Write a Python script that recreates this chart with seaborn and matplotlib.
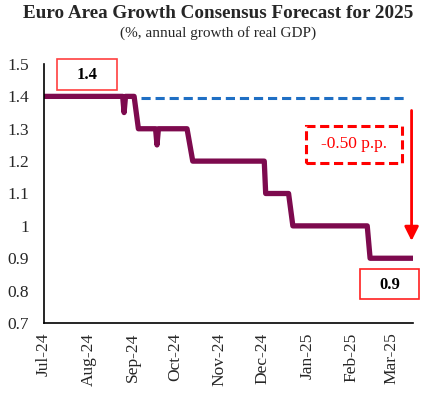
import pandas as pd
import matplotlib.pyplot as plt
import matplotlib.dates as mdates
from matplotlib.patches import Rectangle
import seaborn as sns

# Consensus forecast path (date, % growth)
dates = ["2024-07-01", "2024-08-25", "2024-08-26", "2024-08-27", "2024-09-02",
         "2024-09-05", "2024-09-17", "2024-09-18", "2024-09-19", "2024-10-09",
         "2024-10-13", "2024-12-02", "2024-12-03", "2024-12-19", "2024-12-22",
         "2025-02-12", "2025-02-14", "2025-03-16"]
forecast = [1.4, 1.4, 1.35, 1.4, 1.4,
            1.3, 1.3, 1.25, 1.3, 1.3,
            1.2, 1.2, 1.1, 1.1, 1.0,
            1.0, 0.9, 0.9]

# Reference line (initial forecast, held constant)
ref_dates = ["2024-09-07", "2025-03-12"]
ref_values = [1.395, 1.395]

start_value = "1.4"
end_value = "0.9"
change_label = "-0.50 p.p."

data = pd.DataFrame({"date": pd.to_datetime(dates), "forecast": forecast})
ref = pd.DataFrame({"date": pd.to_datetime(ref_dates), "value": ref_values})

sns.set_theme(style="white")
plt.rcParams['font.family'] = ['Liberation Serif', 'DejaVu Serif']

fig = plt.figure(figsize=(4.36, 3.95), dpi=100)
ax = fig.add_axes([44 / 436, 1 - 323 / 395, 369 / 436, 259 / 395])

sns.lineplot(data=data, x="date", y="forecast", ax=ax, color="#7d0a4e", linewidth=3.8)
sns.lineplot(data=ref, x="date", y="value", ax=ax, color="#1f6fc4", linewidth=2.2,
             linestyle=(0, (3, 1.6)))

ax.set_xlim(pd.Timestamp("2024-07-01"), pd.Timestamp("2025-03-16"))
ax.set_ylim(0.7, 1.5)
ax.set_yticks([0.7, 0.8, 0.9, 1.0, 1.1, 1.2, 1.3, 1.4, 1.5])
ax.set_yticklabels(["0.7", "0.8", "0.9", "1", "1.1", "1.2", "1.3", "1.4", "1.5"])
ax.xaxis.set_major_locator(mdates.MonthLocator())
ax.xaxis.set_major_formatter(mdates.DateFormatter("%b-%y"))
ax.set_xlabel("")
ax.set_ylabel("")
ax.tick_params(axis="x", direction="in", length=4, width=1, rotation=90, labelsize=12.5, pad=7)
ax.tick_params(axis="y", direction="in", length=4, width=1, labelsize=12.5, pad=11)
for side in ["top", "right"]:
    ax.spines[side].set_visible(False)
for side in ["left", "bottom"]:
    ax.spines[side].set_color("black")
    ax.spines[side].set_linewidth(1.2)

# Red arrow showing the revision
arrow_x = pd.Timestamp("2025-03-15")
ax.annotate("", xy=(arrow_x, 0.945), xytext=(arrow_x, 1.365),
            arrowprops=dict(arrowstyle="-|>,head_width=0.35,head_length=0.7",
                            color="#ff0000", lw=2), annotation_clip=False)

# Boxes (figure pixel coordinates)
def px_box(x0, y0, x1, y1, **kw):
    fig.add_artist(Rectangle((x0 / 436, 1 - y1 / 395), (x1 - x0) / 436, (y1 - y0) / 395,
                             transform=fig.transFigure, fill=False, **kw))

px_box(57, 59, 117, 90, edgecolor="#ff4040", linewidth=1.2)
fig.text(87 / 436, 1 - 75 / 395, start_value, ha="center", va="center",
         fontsize=12, fontweight="bold", color="black")

px_box(360, 269, 419, 299, edgecolor="#ff2020", linewidth=1.2)
fig.text(390 / 436, 1 - 285 / 395, end_value, ha="center", va="center",
         fontsize=12, fontweight="bold", color="black")

px_box(306, 126, 402, 163, edgecolor="#ff0000", linewidth=2.2, linestyle=(0, (3, 1.5)))
fig.text(354 / 436, 1 - 144 / 395, change_label, ha="center", va="center",
         fontsize=12.5, color="#ff0000")

fig.text(0.5, 1 - 14 / 395, "Euro Area Growth Consensus Forecast for 2025",
         ha="center", va="center", fontsize=13.8, fontweight="bold")
fig.text(0.5, 1 - 33 / 395, "(%, annual growth of real GDP)",
         ha="center", va="center", fontsize=11)

plt.savefig("out.png", dpi=100)
